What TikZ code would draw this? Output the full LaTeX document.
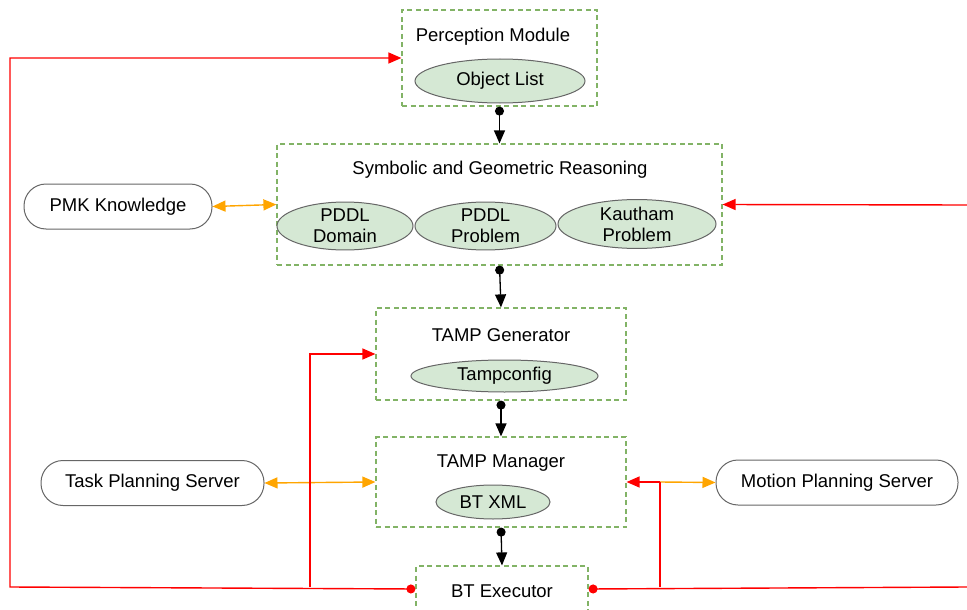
\documentclass[tikz,border=0pt]{standalone}
\usepackage{fontspec}
\setmainfont{Liberation Sans}
\usepackage{tikz}
\usetikzlibrary{arrows.meta,shapes.geometric}

\definecolor{grpgreen}{HTML}{82B366}
\definecolor{elfill}{HTML}{D5E8D4}
\definecolor{elline}{HTML}{666666}
\definecolor{linkred}{HTML}{FF0000}
\definecolor{linkorange}{HTML}{FFA500}

\begin{document}
\begin{tikzpicture}
            [x=1pt,y=-1pt,font=\fontsize{18.5}{21}\selectfont,
             grp/.style={draw=grpgreen,line width=1.2pt,dash pattern=on 5pt off 3.5pt,minimum width=#1},
             obj/.style={ellipse,draw=elline,fill=elfill,line width=1pt,inner sep=0pt,align=center},
             srv/.style={draw=elline,line width=1pt,rounded corners=22pt,minimum height=45pt},
             flow/.style={line width=1.3pt,{Circle[length=9pt]}-{Triangle[length=13pt,width=11pt]}},
             fb/.style={draw=linkred,line width=1.4pt},
             io/.style={draw=linkorange,line width=1.4pt}]
            \useasboundingbox (0,0) rectangle (967,610);

            % groups
            \node[grp=195pt,minimum height=96pt] (perc) at (499.5,58) {};
            \node[grp=445pt,minimum height=121pt] (sgr) at (499.5,204.5) {};
            \node[grp=250pt,minimum height=92pt] (tgen) at (501,354) {};
            \node[grp=250pt,minimum height=90pt] (tman) at (501,482) {};
            \node[grp=172pt,minimum height=46pt] (bte) at (502,589) {};

            % titles
            \node (percT) at (493,36.5) {Perception Module};
            \node (sgrT) at (500,169.5) {Symbolic and Geometric Reasoning};
            \node (tgenT) at (501,335.5) {TAMP Generator};
            \node (tmanT) at (501,463.5) {TAMP Manager};
            \node (bteT) at (502,591.5) {BT Executor};

            % artefacts
            \node[obj,minimum width=170pt,minimum height=44pt] (objl) at (500,81) {Object List};
            \node[obj,minimum width=136pt,minimum height=44pt] (pdom) at (345,226) {PDDL\\Domain};
            \node[obj,minimum width=141pt,minimum height=44pt] (pprob) at (485.5,226) {PDDL\\Problem};
            \node[obj,minimum width=158pt,minimum height=44pt] (kprob) at (637,224) {Kautham\\Problem};
            \node[obj,minimum width=187pt,minimum height=32pt] (tcfg) at (504.5,376) {Tampconfig};
            \node[obj,minimum width=114pt,minimum height=34pt] (btxml) at (493,502) {BT XML};

            % servers
            \node[srv,minimum width=188pt] (pmk) at (118,206.5) {PMK Knowledge};
            \node[srv,minimum width=223pt] (tps) at (152.5,483) {Task Planning Server};
            \node[srv,minimum width=242pt] (mps) at (837,482.5) {Motion Planning Server};

            % main flow
            \draw[flow] (perc.south) -- (sgr.north);
            \draw[flow] (sgr.south) -- (tgen.north);
            \draw[flow] (tgen.south) -- (tman.north);
            \draw[flow] (tman.south) -- (bte.north);

            % knowledge and planners
            \draw[io,{Triangle[length=13pt,width=11pt]}-{Triangle[length=13pt,width=11pt]}] (pmk.east) -- (sgr.west);
            \draw[io,{Triangle[length=13pt,width=11pt]}-{Triangle[length=13pt,width=11pt]}] (tps.east) -- (tman.west);
            \coordinate (mj) at (660,482);
            \draw[io,-{Triangle[length=13pt,width=11pt]}] (mj) -- (mps.west);
            \draw[fb,-{Triangle[length=13pt,width=11pt]}] (mj) -- (tman.east);

            % feedback
            \coordinate (lj) at (310,587);
            \coordinate (rj) at (660,587);
            \coordinate (redge) at (967,587);
            \coordinate (rtop) at (967,205);
            \draw[fb,{Circle[length=9pt]}-{Triangle[length=13pt,width=11pt]}] (bte.west) -- (10,587) |- (perc.west);
            \draw[fb,-{Triangle[length=13pt,width=11pt]}] (lj) |- (tgen.west);
            \draw[fb,{Circle[length=9pt]}-] (bte.east) -- (redge);
            \draw[fb] (rj) -- (mj);
            \draw[fb,-{Triangle[length=13pt,width=11pt]}] (rtop) -- (sgr.east);
        \end{tikzpicture}
\end{document}
